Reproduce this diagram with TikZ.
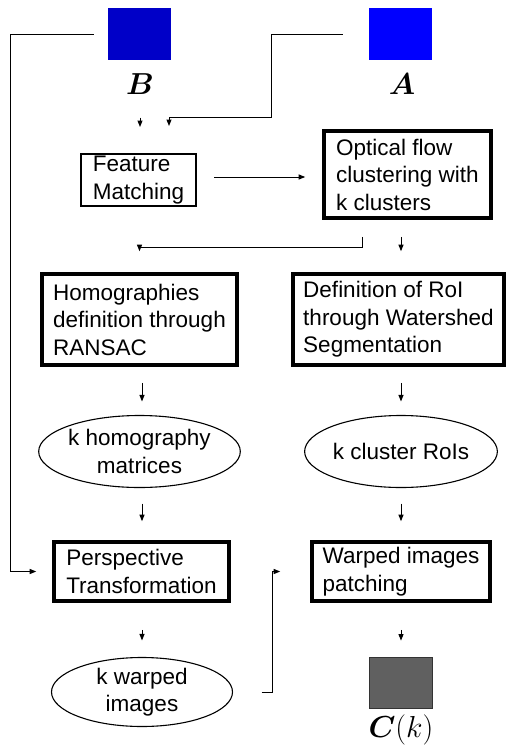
\documentclass[tikz,border=0pt]{standalone}
\usepackage{fontspec}
\usepackage{amsmath,bm}
\setsansfont{Liberation Sans}
\usetikzlibrary{arrows.meta,calc,shapes.geometric}
\definecolor{imgB}{RGB}{0,0,200}
\definecolor{imgA}{RGB}{0,0,255}
\definecolor{imgC}{RGB}{96,96,96}
% large bold math label
\newcommand{\biglab}[1]{\scalebox{1.22}{\fontsize{24.88}{28}\selectfont$#1$}}
\tikzset{
  txt/.style={font=\sffamily\fontsize{22.5}{27.5}\selectfont, align=left, inner sep=0pt},
  thinbox/.style={txt, draw, rectangle, line width=2pt},
  thickbox/.style={txt, draw, rectangle, line width=3.6pt},
  oval/.style={txt, draw, ellipse, line width=1.1pt, align=center},
  img/.style={rectangle, inner sep=0pt, minimum width=63pt, minimum height=52pt},
  mlab/.style={inner sep=0pt},
  arr/.style={line width=1pt, -{Triangle[length=6.5pt,width=5pt]}},
  link/.style={line width=1pt}
}
\begin{document}
\begin{tikzpicture}[x=1pt,y=1pt]
\useasboundingbox (0,0) rectangle (509,-747);

% input and output images
\node[img, fill=imgB] (B) at (139.5,-34) {};
\node[img, fill=imgA] (A) at (400.5,-34) {};
\node[mlab] (Blab) at (140,-84) {\biglab{\bm{B}}};
\node[mlab] (Alab) at (402,-84) {\biglab{\bm{A}}};
\node[img, fill=imgC, draw=black!80, line width=0.8pt, minimum height=51pt] (C) at (400.5,-682.5) {};
\node[mlab] (Clab) at (401,-730) {\biglab{\bm{C}(k)}};

% processing steps
\node[thinbox, minimum width=115pt, minimum height=52pt] (feat) at (138.5,-180) {Feature\\Matching};
\node[thickbox, minimum width=167pt, minimum height=87pt] (opt) at (407.5,-174.5) {Optical flow\\clustering with\\k clusters};
\node[thickbox, minimum width=195pt, minimum height=91pt] (hom) at (139.5,-319.5) {Homographies\\definition through\\RANSAC};
\node[thickbox, minimum width=211pt, minimum height=91pt] (roi) at (398.5,-319.5) {Definition of RoI\\through Watershed\\Segmentation};
\node[oval, minimum width=180pt, minimum height=72pt] (ell1) at (139.5,-451.5) {k homography\\matrices};
\node[oval, minimum width=181pt, minimum height=72pt] (ell2) at (401,-451.5) {k cluster RoIs};
\node[thickbox, minimum width=175pt, minimum height=59pt] (persp) at (141.5,-571.5) {Perspective\\Transformation};
\node[thickbox, minimum width=178pt, minimum height=59pt] (patch) at (401,-571.5) {Warped images\\patching};
\node[oval, minimum width=181pt, minimum height=69pt] (ell3) at (142,-692) {k warped\\images};

% connectors
\draw[arr, shorten >=16pt] ([xshift=-14pt]B.west) -- ++(-83,0) |- (persp.west);
\draw[arr] ([xshift=-26pt]A.west) -- ++(-71,0) -- ++(0,-83) -| ($(feat.north)+(30.5,27)$);
\draw[arr, shorten <=23pt] (Blab) -- ($(feat.north -| Blab)+(0,26)$);
\draw[arr, shorten <=17pt, shorten >=17pt] ([yshift=3pt]feat.east) -- ([yshift=-2.5pt]opt.west);
\draw[arr] ($(opt.south)+(-45.5,-17)$) -- ++(0,-11) -| ($(hom.north)+(0,21)$);
\draw[arr] ($(opt.south)+(-6.5,-17)$) -- ($(roi.north)+(2.5,21)$);
\draw[arr] ($(hom.south)+(2.5,-16)$) -- ($(ell1.north)+(2.5,13.5)$);
\draw[arr] ($(roi.south)+(2.5,-16)$) -- ($(ell2.north)+(0,13.5)$);
\draw[arr] ($(ell1.south)+(2.5,-15.5)$) -- ($(persp.north)+(0.5,19)$);
\draw[arr] ($(ell2.south)+(0,-15.5)$) -- ($(patch.north)+(0,19)$);
\draw[arr] ($(persp.south)+(0.5,-27)$) -- ($(ell3.north)+(0,16.5)$);
\draw[arr] ($(patch.south)+(0,-27)$) -- ($(C.north)+(0.5,16)$);
\draw[arr, shorten <=28.5pt, shorten >=30pt] (ell3.east) -- ++(39.5,0) |- (patch.west);
\end{tikzpicture}
\end{document}
